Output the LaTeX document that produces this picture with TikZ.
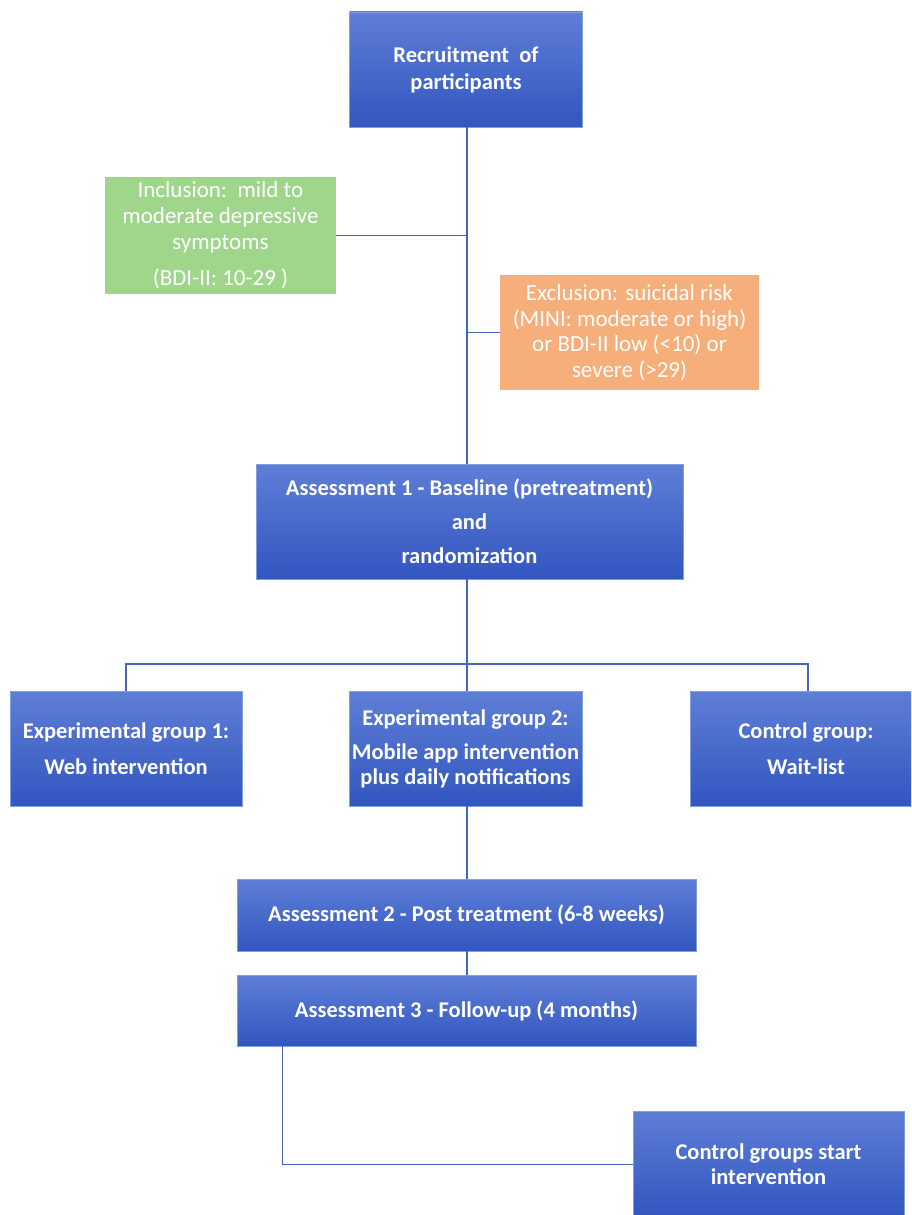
\documentclass[tikz,border=0pt]{standalone}
\usepackage{fontspec}
\setmainfont{Carlito}
\definecolor{btop}{RGB}{94,126,214}
\definecolor{bbot}{RGB}{50,86,192}
\definecolor{bedge}{RGB}{130,158,222}
\definecolor{linec}{RGB}{68,100,190}
\definecolor{greenbox}{RGB}{160,214,140}
\definecolor{orangebox}{RGB}{246,174,122}
\tikzset{
  bluebox/.style={rectangle, inner sep=0pt, top color=btop, bottom color=bbot, draw=bedge, line width=0.8pt, text=white, align=center, font=\fontsize{22.5}{26}\selectfont\bfseries},
  flatbox/.style={rectangle, inner sep=0pt, text=white, align=center, font=\fontsize{23}{25.6}\selectfont},
  conn/.style={draw=linec, line width=1.4pt}
}
\begin{document}
\begin{tikzpicture}[x=1pt,y=-1pt]
\useasboundingbox (0,0) rectangle (911,1215);
\clip (0,0) rectangle (911,1215);
\node[bluebox, minimum width=233pt, minimum height=115pt] (rec) at (466,69.5) {Recruitment\ \ of\\[1pt]participants};
\node[flatbox, fill=greenbox, minimum width=231pt, minimum height=117pt] (inc) at (220.5,235.5) {Inclusion:\ \ mild to\\moderate depressive\\symptoms\\[11pt](BDI-II: 10-29 )};
\node[flatbox, fill=orangebox, minimum width=259pt, minimum height=115pt] (exc) at (629.5,332.5) {Exclusion: suicidal risk\\(MINI: moderate or high)\\or BDI-II low (<10) or\\severe (>29)};
\node[bluebox, minimum width=427pt, minimum height=115pt] (a1) at (469.5,521.5) {Assessment 1 - Baseline (pretreatment)\\[8pt]and\\[8pt]randomization};
\node[bluebox, minimum width=232pt, minimum height=115pt] (g1) at (126,748.5) {Experimental group 1:\\[10pt]Web intervention};
\node[bluebox, minimum width=233pt, minimum height=115pt] (g2) at (465.5,748.5) {Experimental group 2:\\[8pt]Mobile app intervention\\[-1pt]plus daily notifications};
\node[bluebox, minimum width=232pt, minimum height=115pt] (ctl) at (806,748.5) {Control group:\\[10pt]Wait-list};
\node[bluebox, minimum width=459pt, minimum height=72pt] (a2) at (466.5,915) {Assessment 2 - Post treatment (6-8 weeks)};
\node[bluebox, minimum width=459pt, minimum height=71pt] (a3) at (466.5,1010.5) {Assessment 3 - Follow-up (4 months)};
\node[bluebox, minimum width=271pt, minimum height=107pt] (cs) at (768.5,1164.5) {Control groups start\\[-1pt]intervention};
\coordinate (bus) at (467,664);
\draw[conn] (rec.south -| bus) -- (a1.north -| bus);
\draw[conn] (inc.east) -- (inc.east -| bus);
\draw[conn] (exc.west) -- (exc.west -| bus);
\draw[conn] (a1.south -| bus) -- (bus);
\draw[conn] (g1.north) |- (bus) -| ([xshift=2pt]ctl.north);
\draw[conn] (bus) -- (g2.north -| bus);
\draw[conn] (g2.south -| bus) -- (a2.north -| bus);
\draw[conn] (a2.south -| bus) -- (a3.north -| bus);
\draw[conn] ([xshift=46pt]a3.south west) |- (cs.west);
\end{tikzpicture}
\end{document}
